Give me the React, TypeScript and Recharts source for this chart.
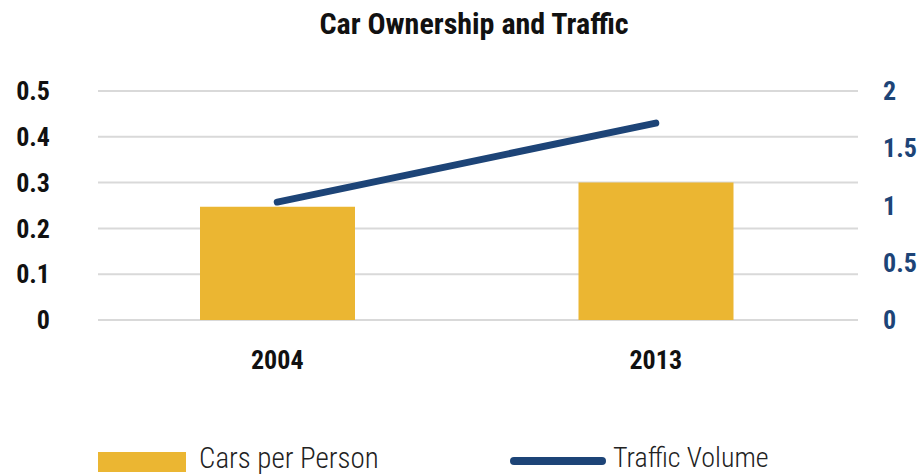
import React from "react";
import { ComposedChart, Bar, Line, XAxis, YAxis, CartesianGrid } from "recharts";

const years = ["2004", "2013"];
const carsPerPerson = [0.247, 0.3];
const trafficVolume = [1.03, 1.72];
const leftTicks = [0, 0.1, 0.2, 0.3, 0.4, 0.5];
const rightTicks = [0, 0.5, 1, 1.5, 2];
const seriesNames = ["Cars per Person", "Traffic Volume"];
const title = "Car Ownership and Traffic";

const data = years.map((y, i) => ({ year: y, cars: carsPerPerson[i], traffic: trafficVolume[i] }));

const FONT = "'Roboto Condensed', 'Liberation Sans Narrow', 'DejaVu Sans Condensed', Roboto, sans-serif";
const BAR = "#ebb632";
const NAVY = "#1d4477";

export default function App() {
  return (
    <div style={{ position: "absolute", left: 0, top: 0, width: 919, height: 476, fontFamily: FONT, background: "#fff" }}>
      <div style={{ position: "absolute", left: 0, top: 4, width: 948, textAlign: "center", fontSize: 30, lineHeight: "40px", fontWeight: 700, color: "#111" }}>
        {title}
      </div>
      <ComposedChart width={919} height={476} data={data} margin={{ top: 91, right: 11, bottom: 86, left: 8 }}>
        <CartesianGrid yAxisId="left" vertical={false} stroke="#d9d9d9" strokeWidth={2} />
        <XAxis
          dataKey="year"
          axisLine={false}
          tickLine={false}
          tickSize={0}
          tickMargin={31}
          height={70}
          padding={{ left: -10, right: 13 }}
          tick={{ fontSize: 26, fontWeight: 700, fill: "#111", fontFamily: FONT }}
        />
        <YAxis
          yAxisId="left"
          orientation="left"
          width={90}
          domain={[0, 0.5]}
          ticks={leftTicks}
          axisLine={false}
          tickLine={false}
          tickSize={0}
          tickMargin={48}
          tick={{ fontSize: 26, fontWeight: 700, fill: "#111", fontFamily: FONT }}
        />
        <YAxis
          yAxisId="right"
          orientation="right"
          width={50}
          domain={[0, 2]}
          ticks={rightTicks}
          axisLine={false}
          tickLine={false}
          tickSize={0}
          tickMargin={25}
          tick={{ fontSize: 26, fontWeight: 700, fill: NAVY, fontFamily: FONT, textAnchor: "start" }}
        />
        <Bar yAxisId="left" dataKey="cars" fill={BAR} barSize={155} isAnimationActive={false} />
        <Line
          yAxisId="right"
          dataKey="traffic"
          stroke={NAVY}
          strokeWidth={7}
          strokeLinecap="round"
          dot={false}
          activeDot={false}
          isAnimationActive={false}
        />
      </ComposedChart>
      <div style={{ position: "absolute", left: 98, top: 452, width: 88, height: 20, background: BAR }} />
      <div style={{ position: "absolute", left: 199, top: 441, fontSize: 29, color: "#222", fontWeight: 300, lineHeight: "34px" }}>
        {seriesNames[0]}
      </div>
      <div style={{ position: "absolute", left: 510, top: 457, width: 96, height: 8, borderRadius: 4, background: NAVY }} />
      <div style={{ position: "absolute", left: 613, top: 441, fontSize: 28, color: "#222", fontWeight: 300, lineHeight: "34px" }}>
        {seriesNames[1]}
      </div>
    </div>
  );
}
